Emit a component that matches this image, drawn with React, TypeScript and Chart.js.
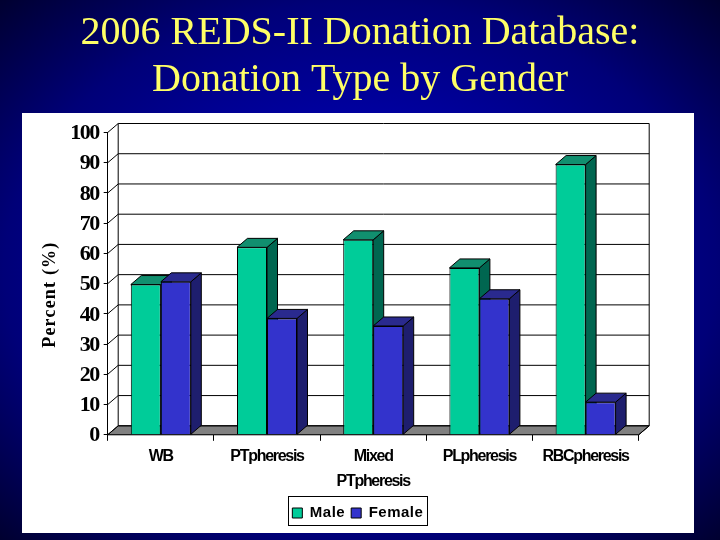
import React, { useEffect, useRef } from "react";
import { Chart, registerables } from "chart.js";

Chart.register(...registerables);

const titleLines = ["2006 REDS-II Donation Database:", "Donation Type by Gender"];
const categories: (string | string[])[] = ["WB", "PTpheresis", ["Mixed", "PTpheresis"], "PLpheresis", "RBCpheresis"];
const maleValues = [49.7, 62, 64.5, 55.2, 89.4];
const femaleValues = [50.6, 38.5, 36, 45, 10.8];
const yTicks = [0, 10, 20, 30, 40, 50, 60, 70, 80, 90, 100];
const yTitle = "Percent (%)";

const DX = 10.5;
const DY = -9;

const faces = [
  { top: "#118f6f", side: "#006650" },
  { top: "#2a2a8e", side: "#1e1e6e" },
];

function spaced(obj: any, method: string, ctx: CanvasRenderingContext2D, spacing: string, dy = 0) {
  const orig = obj[method];
  obj[method] = function (...args: any[]) {
    ctx.save();
    ctx.translate(0, dy);
    (ctx as any).letterSpacing = spacing;
    orig.apply(this, args);
    ctx.restore();
    (ctx as any).letterSpacing = "0px";
  };
}

const threeD = {
  id: "threeD",
  afterLayout(chart: any) {
    // title and legend are centred on the slide, not on the plot
    const t = chart.titleBlock;
    t.left = 0;
    t.right = 720;
    const lg = chart.legend;
    lg.left = 0;
    lg.right = 710.7;
  },
  beforeDraw(chart: any) {
    const { ctx, scales } = chart;
    if (!chart.$patched) {
      chart.$patched = true;
      spaced(scales.y, "drawTitle", ctx, "1.2px", 11);
      spaced(scales.y, "drawLabels", ctx, "-1.5px", 1);
      spaced(scales.x, "drawLabels", ctx, "-1.3px", -2);
      spaced(chart.legend, "draw", ctx, "0.5px");
    }
    ctx.save();
    ctx.fillStyle = "#ffffff";
    ctx.fillRect(22, 113, 672, 420);
    ctx.restore();
  },
  beforeDatasetsDraw(chart: any) {
    const { ctx, chartArea: a, scales } = chart;
    const y0 = scales.y.getPixelForValue(0);
    ctx.save();
    ctx.lineWidth = 1;
    ctx.strokeStyle = "#000";
    ctx.fillStyle = "#808080";
    ctx.beginPath();
    ctx.moveTo(a.left, y0);
    ctx.lineTo(a.right, y0);
    ctx.lineTo(a.right + DX, y0 + DY);
    ctx.lineTo(a.left + DX, y0 + DY);
    ctx.closePath();
    ctx.fill();
    ctx.stroke();
    ctx.beginPath();
    for (const t of yTicks) {
      const py = scales.y.getPixelForValue(t);
      ctx.moveTo(a.left, py);
      ctx.lineTo(a.left + DX, py + DY);
      ctx.lineTo(a.right + DX, py + DY);
    }
    const pTop = scales.y.getPixelForValue(100);
    ctx.moveTo(a.left + DX, y0 + DY);
    ctx.lineTo(a.left + DX, pTop + DY);
    ctx.moveTo(a.right + DX, y0 + DY);
    ctx.lineTo(a.right + DX, pTop + DY);
    ctx.moveTo(a.right, y0);
    ctx.lineTo(a.right + DX, y0 + DY);
    ctx.stroke();
    chart.data.datasets.forEach((_: any, i: number) => {
      const meta = chart.getDatasetMeta(i);
      meta.data.forEach((b: any) => {
        const l = b.x - b.width / 2;
        const r = b.x + b.width / 2;
        const t = b.y;
        const base = b.base;
        ctx.fillStyle = faces[i].side;
        ctx.beginPath();
        ctx.moveTo(r, t);
        ctx.lineTo(r + DX, t + DY);
        ctx.lineTo(r + DX, base + DY);
        ctx.lineTo(r, base);
        ctx.closePath();
        ctx.fill();
        ctx.stroke();
        ctx.fillStyle = faces[i].top;
        ctx.beginPath();
        ctx.moveTo(l, t);
        ctx.lineTo(l + DX, t + DY);
        ctx.lineTo(r + DX, t + DY);
        ctx.lineTo(r, t);
        ctx.closePath();
        ctx.fill();
        ctx.stroke();
      });
    });
    ctx.restore();
  },
  afterDraw(chart: any) {
    const { ctx } = chart;
    ctx.save();
    ctx.strokeStyle = "#000";
    ctx.lineWidth = 1;
    ctx.strokeRect(288.5, 496.5, 139, 29);
    ctx.restore();
  },
};

export default function App() {
  const ref = useRef<HTMLCanvasElement>(null);
  useEffect(() => {
    const chart = new Chart(ref.current as HTMLCanvasElement, {
      type: "bar",
      data: {
        labels: categories as any,
        datasets: [
          { label: "Male", data: maleValues, backgroundColor: "#00cc99", borderColor: "#000", borderWidth: 1 },
          { label: "Female", data: femaleValues, backgroundColor: "#3333cc", borderColor: "#000", borderWidth: 1 },
        ],
      },
      options: {
        animation: false,
        responsive: false,
        devicePixelRatio: 1,
        layout: { padding: { left: 40, right: 81.3, top: 0, bottom: 9.5 } },
        datasets: { bar: { categoryPercentage: 0.565, barPercentage: 1 } },
        plugins: {
          title: {
            display: true,
            text: titleLines,
            color: "#ffff66",
            font: { family: "'Liberation Serif'", size: 40, weight: "normal", lineHeight: 47 / 40 },
            padding: { top: 9.5, bottom: 29 },
          },
          legend: {
            display: true,
            position: "bottom",
            labels: {
              color: "#000",
              boxWidth: 10,
              boxHeight: 10,
              padding: 6,
              font: { family: "'Liberation Sans'", size: 15, weight: "bold" },
            },
          },
          tooltip: { enabled: false },
        },
        scales: {
          x: {
            grid: { display: true, drawOnChartArea: false, drawTicks: true, tickLength: 6, color: "#000" },
            border: { display: true, color: "#000" },
            ticks: {
              color: "#000",
              maxRotation: 0,
              autoSkip: false,
              padding: 5,
              font: { family: "'Liberation Sans'", size: 16, weight: "bold", lineHeight: 25 / 16 },
            },
            afterFit(s: any) {
              s.height = 64.7;
            },
          },
          y: {
            min: 0,
            max: 100,
            grid: { display: true, drawOnChartArea: false, drawTicks: true, tickLength: 4, color: "#000" },
            border: { display: true, color: "#000" },
            ticks: {
              color: "#000",
              stepSize: 10,
              padding: 5,
              autoSkip: false,
              font: { family: "'Liberation Serif'", size: 22, weight: "bold" },
            },
            title: {
              display: true,
              text: yTitle,
              color: "#000",
              padding: 0,
              font: { family: "'Liberation Serif'", size: 18, weight: "bold" },
            },
            afterFit(s: any) {
              s.width = 67.7;
            },
          },
        },
      },
      plugins: [threeD],
    } as any);
    return () => chart.destroy();
  }, []);
  return (
    <div
      style={{
        position: "fixed",
        left: 0,
        top: 0,
        width: 720,
        height: 540,
        background:
          "radial-gradient(ellipse farthest-corner at center, #0000b0 0%, #0000a0 40%, #000078 70%, #000030 100%)",
      }}
    >
      <canvas ref={ref} width={720} height={540} style={{ display: "block" }} />
    </div>
  );
}
